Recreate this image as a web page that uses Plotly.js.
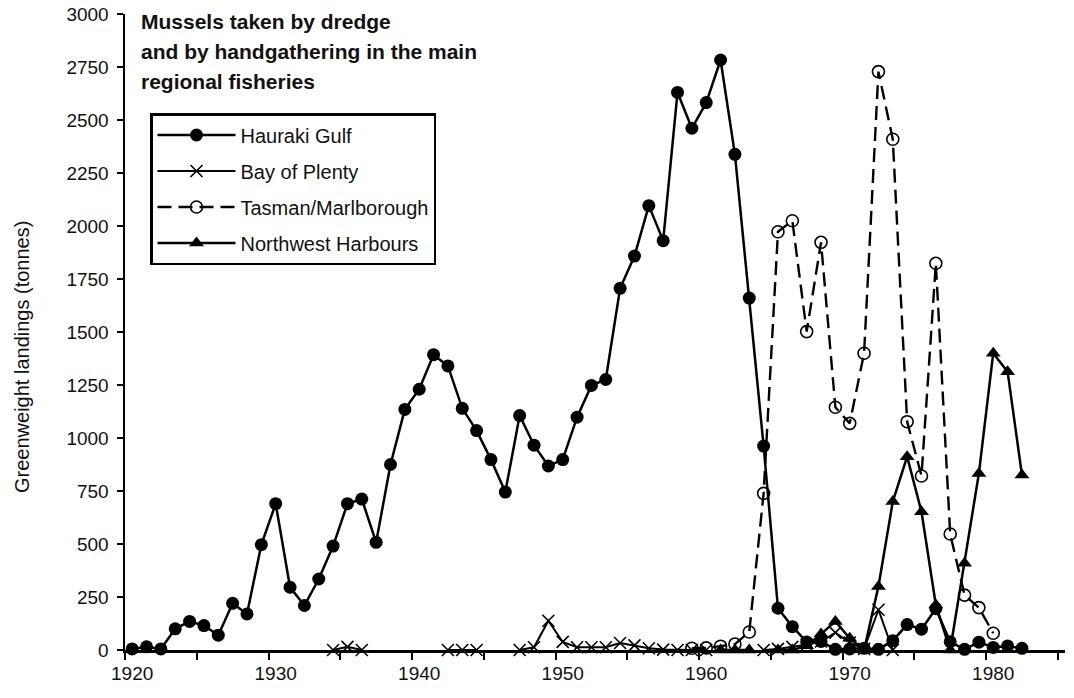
<!DOCTYPE html>
<html>
<head>
<meta charset="utf-8">
<script src="https://cdn.plot.ly/plotly-3.0.1.min.js"></script>
<style>
  html, body { margin: 0; padding: 0; background: #ffffff; }
  #chart { width: 1074px; height: 698px; }
</style>
</head>
<body>
<div id="chart"></div>
<script>
// ---- data ----
const haurakiYears = [1920,1921,1922,1923,1924,1925,1926,1927,1928,1929,1930,1931,1932,1933,1934,1935,1936,1937,1938,1939,1940,1941,1942,1943,1944,1945,1946,1947,1948,1949,1950,1951,1952,1953,1954,1955,1956,1957,1958,1959,1960,1961,1962,1963,1964,1965,1966,1967,1968,1969,1970,1971,1972,1973,1974,1975,1976,1977,1978,1979,1980,1981,1982];
const haurakiValues = [5,15,5,100,135,115,70,220,170,497,690,296,210,335,490,690,712,508,875,1135,1230,1393,1340,1140,1035,898,745,1106,966,868,898,1098,1248,1276,1706,1858,2096,1931,2630,2461,2582,2783,2338,1660,962,197,110,38,40,3,5,8,3,44,120,98,195,39,3,37,12,19,8];

const bopYears = [1934,1935,1936,1937,1942,1943,1944,1945,1947,1948,1949,1950,1951,1952,1953,1954,1955,1956,1957,1958,1959,1960,1961,1964,1965,1966,1967,1968,1969,1970,1971,1972,1973];
const bopValues = [0,15,0,null,0,0,0,null,0,13,138,38,13,13,13,33,22,8,2,0,0,0,null,0,5,15,25,40,82,35,5,190,0];

const tasmanYears = [1959,1960,1961,1962,1963,1964,1965,1966,1967,1968,1969,1970,1971,1972,1973,1974,1975,1976,1977,1978,1979,1980];
const tasmanValues = [8,10,18,28,85,739,1973,2025,1502,1923,1145,1069,1400,2728,2409,1077,821,1824,547,259,200,79];

const nwYears = [1961,1962,1963,1964,1965,1966,1967,1968,1969,1970,1971,1972,1973,1974,1975,1976,1977,1978,1979,1980,1981,1982];
const nwValues = [0,0,0,null,0,0,20,75,135,55,0,300,700,912,652,212,0,409,833,1400,1313,825];

const seriesNames = ["Hauraki Gulf", "Bay of Plenty", "Tasman/Marlborough", "Northwest Harbours"];
const xTickVals = [1920,1930,1940,1950,1960,1970,1980];
const xTickText = ["1920","1930","1940","1950","1960","1970","1980"];
const titleLines = ["Mussels taken by dredge", "and by handgathering in the main", "regional fisheries"];
const yTitle = "Greenweight landings (tonnes)";

// ---- layout constants ----
const FONT = "Liberation Sans, Arial, sans-serif";
const W = 1074, H = 698;
const M = {l: 125, r: 9, t: 14, b: 48};
const plotW = W - M.l - M.r, plotH = H - M.t - M.b;
const px2x = px => (px - M.l) / plotW;
const px2y = py => (H - M.b - py) / plotH;

const traces = [
  {
    x: haurakiYears, y: haurakiValues, name: seriesNames[0], legendgroup: "g1",
    type: "scatter", mode: "lines+markers", cliponaxis: false,
    line: {color: "#000", width: 2.5},
    marker: {symbol: "circle", size: 13, color: "#000"}
  },
  {
    x: bopYears, y: bopValues, name: seriesNames[1], legendgroup: "g2",
    type: "scatter", mode: "lines+markers", cliponaxis: false,
    line: {color: "#000", width: 2},
    marker: {symbol: "x-thin-open", size: 12, color: "#000", line: {color: "#000", width: 1.6}}
  },
  {
    x: tasmanYears, y: tasmanValues, name: seriesNames[2], legendgroup: "g3",
    type: "scatter", mode: "lines+markers", cliponaxis: false,
    line: {color: "#000", width: 2.4, dash: "14px,7px"},
    marker: {symbol: "circle-open", size: 12, color: "#000", line: {color: "#000", width: 1.6}}
  },
  {
    x: nwYears, y: nwValues, name: seriesNames[3], legendgroup: "g4",
    type: "scatter", mode: "lines+markers", cliponaxis: false,
    line: {color: "#000", width: 2.5},
    marker: {symbol: "triangle-up", size: 13, color: "#000"}
  }
];

const annotations = titleLines.map((t, i) => ({
  xref: "paper", yref: "paper",
  x: px2x(139), y: px2y([21, 51, 82][i]),
  xanchor: "left", yanchor: "middle",
  text: "<b>" + t + "</b>", showarrow: false,
  font: {family: FONT, size: 21, color: "#111"}
}));
annotations.push({
  xref: "paper", yref: "paper",
  x: px2x(22), y: px2y(357),
  xanchor: "center", yanchor: "middle", textangle: -90,
  text: yTitle, showarrow: false,
  font: {family: FONT, size: 20, color: "#111"}
});

const layout = {
  width: W, height: H,
  margin: M,
  paper_bgcolor: "#fff", plot_bgcolor: "#fff",
  font: {family: FONT, size: 19, color: "#111"},
  showlegend: true,
  legend: {
    x: px2x(150), y: px2y(113), xanchor: "left", yanchor: "top",
    bordercolor: "#000", borderwidth: 2.5, bgcolor: "#fff",
    font: {family: FONT, size: 20, color: "#111"},
    traceorder: "grouped", tracegroupgap: 7, itemwidth: 78
  },
  xaxis: {
    range: [1919.5, 1985], showgrid: false, zeroline: false,
    showline: true, linecolor: "#000", linewidth: 2.5,
    tickmode: "array", tickvals: xTickVals, ticktext: xTickText,
    ticks: "", ticklabelstandoff: 5,
    minor: {tick0: 1919.5, dtick: 5, ticks: "outside", ticklen: 7, tickwidth: 2, tickcolor: "#000"},
    tickfont: {family: FONT, size: 19, color: "#111"}
  },
  yaxis: {
    range: [0, 3000], showgrid: false, zeroline: false,
    showline: true, linecolor: "#000", linewidth: 2.5,
    tickmode: "linear", tick0: 0, dtick: 250,
    ticks: "outside", ticklen: 6, tickwidth: 2, tickcolor: "#000",
    ticklabelstandoff: 4,
    tickfont: {family: FONT, size: 19, color: "#111"}
  },
  annotations: annotations
};

Plotly.newPlot("chart", traces, layout, {displayModeBar: false, staticPlot: true});
</script>
</body>
</html>
